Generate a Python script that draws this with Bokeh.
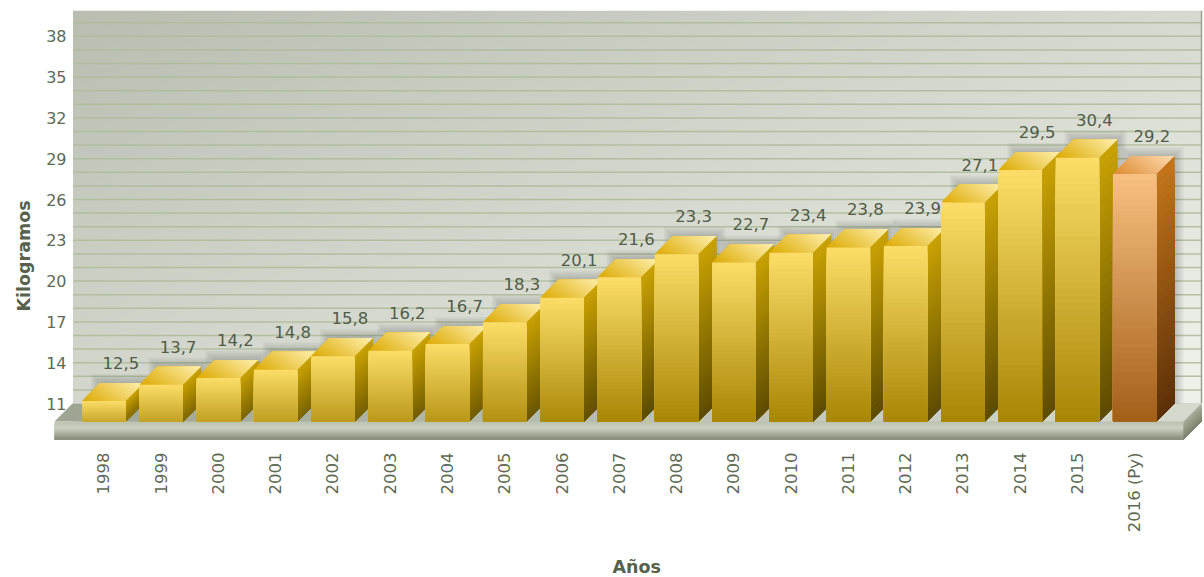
import numpy as np
from bokeh.plotting import figure
from bokeh.models import FixedTicker, ColumnDataSource, Title
from bokeh.core.properties import value
from bokeh.embed import file_html
from bokeh.resources import INLINE

categories = ["1998","1999","2000","2001","2002","2003","2004","2005","2006","2007",
              "2008","2009","2010","2011","2012","2013","2014","2015","2016 (Py)"]
kilos = [12.5,13.7,14.2,14.8,15.8,16.2,16.7,18.3,20.1,21.6,
         23.3,22.7,23.4,23.8,23.9,27.1,29.5,30.4,29.2]
y_tick_values = [11,14,17,20,23,26,29,32,35,38]
grid_values = list(range(12,40))
projected = [False]*18 + [True]

# pixel layout of the scene
PX_X, PX_Y = 57.27, 13.6
X0_PX, Y11_PX = 103.4, 403.0
DEPTH = 18.0
FRAME_L, FRAME_R, FRAME_T, FRAME_B = 54, 1203, 10, 440
DX, DY = DEPTH/PX_X, DEPTH/PX_Y
HALF = 21.8/PX_X
BASE = 11.0

def xd(px): return (px-X0_PX)/PX_X
def yd(px): return BASE+(Y11_PX-px)/PX_Y

def hexrgb(h): return np.array([int(h[i:i+2],16) for i in (1,3,5)],float)
def mix(a,b,t):
    c = hexrgb(a)*(1-t)+hexrgb(b)*t
    return "#%02x%02x%02x" % tuple(int(round(v)) for v in c)

YEL = dict(ft="#fbdd68", fb="#a88605", st="#c9a204", sb="#5d4b00", tl="#dcaa02", tr="#fff0ae")
ORA = dict(ft="#f8c082", fb="#a35f18", st="#c4751a", sb="#5b3008", tl="#dc8a32", tr="#ffdcb0")

p = figure(width=1204, height=577, output_backend="svg", toolbar_location=None,
           x_range=(xd(FRAME_L), xd(FRAME_R)), y_range=(yd(FRAME_B), yd(FRAME_T)),
           min_border_left=FRAME_L, min_border_right=1204-FRAME_R, min_border_top=FRAME_T, min_border_bottom=577-FRAME_B,
           frame_width=FRAME_R-FRAME_L, frame_height=FRAME_B-FRAME_T)
p.outline_line_color = None
p.background_fill_color = "white"
p.xgrid.visible = False
p.ygrid.visible = False

# back wall
wall_l, wall_b = xd(72.5), BASE
wall_r, wall_t = xd(1201.0), yd(FRAME_T)
H, W = 197, 564
yy, xx = np.mgrid[0:H, 0:W]
t = np.clip(0.5*(1-yy/(H-1)) + 0.55*xx/(W-1), 0, 1)
c0, c1 = hexrgb("#b9beb1"), hexrgb("#eef1ea")
img = np.zeros((H,W), dtype=np.uint32)
view = img.view(dtype=np.uint8).reshape((H,W,4))
for k in range(3):
    view[:,:,k] = (c0[k]*(1-t)+c1[k]*t).astype(np.uint8)
view[:,:,3] = 255
p.image_rgba(image=[img], x=wall_l, y=wall_b, dw=wall_r-wall_l, dh=wall_t-wall_b)

p.segment(x0=[wall_l]*len(grid_values), x1=[wall_r]*len(grid_values), y0=grid_values, y1=grid_values,
          line_color="#adbd9b", line_width=1.5, line_alpha=0.9)
p.segment(x0=[wall_r], x1=[wall_r], y0=[wall_b], y1=[wall_t], line_color="#9aa08f", line_width=1.5)

# floor
fx0, fx1 = xd(54.0), xd(1183.0)
fy_f = BASE-DY
fh = 18/PX_Y
xs, ys, cs = [], [], []
N = 60
for i in range(N):
    a = i/N
    l = fx0+(fx1-fx0)*a
    xs.append([l, fx1, fx1+DX, l+DX]); ys.append([fy_f, fy_f, BASE, BASE])
    cs.append(mix("#9ea593", "#d6dbd0", a))
N = 18
for i in range(N):
    a = i/N
    xs.append([fx0, fx1, fx1, fx0]); ys.append([fy_f-fh*a]*2+[fy_f-fh]*2)
    cs.append(mix("#bcc2b0", "#cbd1c0", a/0.35) if a < 0.35 else mix("#cbd1c0", "#7f8772", (a-0.35)/0.65))
    xs.append([fx1, fx1+DX, fx1+DX, fx1])
    ys.append([fy_f-fh*a, BASE-fh*a, BASE-fh, fy_f-fh])
    cs.append(mix("#a6ae99", "#7a8270", a))
p.patches(xs, ys, fill_color=cs, line_color=None)

# soft shadows of the bars on the wall
xs, ys = [], []
for i, v in enumerate(kilos):
    for k in (9, 7, 5, 3, 1):
        ex, ey = k/PX_X, k/PX_Y
        l, r = i-HALF+DX-ex, i+HALF+DX+ex
        xs.append([l, r, r, l]); ys.append([BASE, BASE, v+ey, v+ey])
p.patches(xs, ys, fill_color="#3c3f36", fill_alpha=0.055, line_color=None)

# bars
xs, ys, cs = [], [], []
NF, NS, NT = 40, 30, 26
for i, v in enumerate(kilos):
    P = ORA if projected[i] else YEL
    l, r = i-HALF, i+HALF
    top, bot = v-DY, BASE-DY
    run = 0.55+0.45*min(1.0, (top-bot)/10.0)
    for s_i in range(NT):
        s = 2*s_i/NT
        if s <= 1:
            uv = [(s,0),(1,0),(1,1),(0,1),(0,s)]
        else:
            uv = [(1,s-1),(1,1),(s-1,1)]
        xs.append([l+(r-l)*u+DX*w for u, w in uv])
        ys.append([top+DY*w for u, w in uv])
        cs.append(mix(P["tl"], P["tr"], (s+1/NT)/2))
    for s in range(NS):
        a = s/NS
        y0 = top+(bot-top)*a
        xs.append([r, r+DX, r+DX, r]); ys.append([y0, y0+DY, bot+DY, bot])
        cs.append(mix(P["st"], P["sb"], (a+0.5/NS)*run))
    for s in range(NF):
        a = s/NF
        y0 = top+(bot-top)*a
        xs.append([l, r, r, l]); ys.append([y0, y0, bot, bot])
        cs.append(mix(P["ft"], P["fb"], (a+0.5/NF)*run))
p.patches(xs, ys, fill_color=cs, line_color=None)

# value labels
src = ColumnDataSource(dict(x=[i+DX for i in range(len(kilos))], y=kilos,
                            t=[f"{v:.1f}".replace(".", ",") for v in kilos]))
p.text("x", "y", text="t", source=src, text_align="center", text_baseline="alphabetic",
       x_offset=-1, y_offset=-20, text_font=value("DejaVu Sans"), text_font_size="16.5px", text_color="#515c47")

# axes
ya = p.yaxis[0]
ya.ticker = FixedTicker(ticks=y_tick_values)
ya.axis_line_color = None
ya.major_tick_line_color = None
ya.minor_tick_line_color = None
ya.major_label_standoff = -18
ya.major_label_text_font = "DejaVu Sans"
ya.major_label_text_font_size = "16px"
ya.major_label_text_color = "#5e6a54"

xa = p.xaxis[0]
xa.ticker = FixedTicker(ticks=list(range(len(categories))))
xa.major_label_overrides = {i: c for i, c in enumerate(categories)}
xa.major_label_orientation = np.pi/2
xa.axis_line_color = None
xa.major_tick_line_color = None
xa.minor_tick_line_color = None
xa.major_label_standoff = 6
xa.major_label_text_font = "DejaVu Sans"
xa.major_label_text_font_size = "16.5px"
xa.major_label_text_color = "#5e6a54"

# axis titles sit off-centre relative to the frame
p.add_layout(Title(text="Kilogramos", align="left", offset=129, standoff=20,
                   text_font="DejaVu Sans", text_font_style="bold",
                   text_font_size="17.5px", text_color="#56624b"), "left")
p.add_layout(Title(text="Años", align="left", offset=558, standoff=38,
                   text_font="DejaVu Sans", text_font_style="bold",
                   text_font_size="17.5px", text_color="#56624b"), "below")

open("out.html", "w").write(file_html(p, INLINE))
